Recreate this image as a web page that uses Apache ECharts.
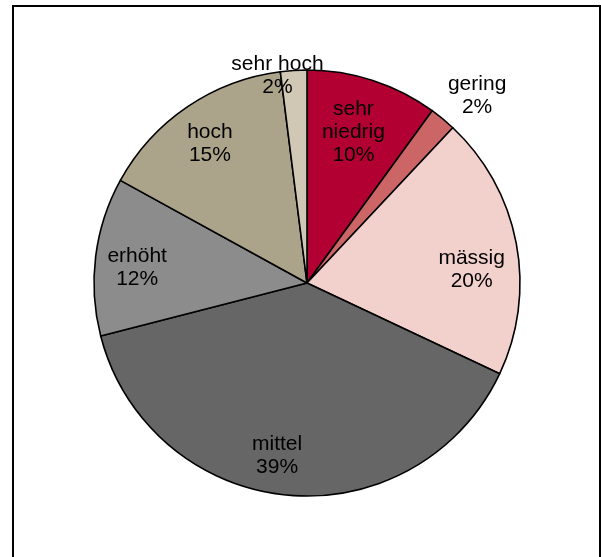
<!DOCTYPE html>
<html>
<head>
<meta charset="utf-8">
<script src="https://cdn.jsdelivr.net/npm/echarts@6/dist/echarts.min.js"></script>
<style>
  html, body { margin: 0; padding: 0; background: #fff; }
  #chart { width: 601px; height: 557px; }
</style>
</head>
<body>
<div id="chart"></div>
<script>
// Risk classes and their shares (percent)
const categories = ['sehr\nniedrig', 'gering', 'mässig', 'mittel', 'erhöht', 'hoch', 'sehr hoch'];
const shares = [10, 2, 20, 39, 12, 15, 2];
const colors = ['#b20033', '#cc6666', '#f2d0cc', '#666666', '#8c8c8c', '#aca48a', '#d0c8b4'];

// Label placement: radial stretch factor relative to the default inside position, plus a small pixel nudge
const labelStretch = [1.49, 2.38, 1.54, 1.64, 1.60, 1.61, 1.97];
const labelNudge = [[-4, 4], [4, 14], [-1, 18], [-13, -6], [4, 7], [2, 7], [-16, 8]];

const CX = 307, CY = 283, R = 213;

const chart = echarts.init(document.getElementById('chart'), null, { renderer: 'canvas' });

chart.setOption({
  animation: false,
  backgroundColor: '#ffffff',
  graphic: [{
    type: 'rect',
    shape: { x: 13, y: 6, width: 587, height: 620 },
    style: { fill: 'none', stroke: '#000', lineWidth: 2 },
    silent: true
  }],
  series: [{
    type: 'pie',
    center: [CX, CY],
    radius: [0, R],
    startAngle: 90,
    clockwise: true,
    avoidLabelOverlap: false,
    data: categories.map((name, i) => ({ name: name, value: shares[i], itemStyle: { color: colors[i] } })),
    itemStyle: { borderColor: '#000', borderWidth: 1.6 },
    label: {
      show: true,
      position: 'inside',
      formatter: p => p.name + '\n' + p.value + '%',
      fontFamily: 'Liberation Sans, Arial, sans-serif',
      fontSize: 21,
      lineHeight: 23,
      color: '#000'
    },
    labelLine: { show: false },
    emphasis: { disabled: true },
    labelLayout: function (params) {
      const r = params.labelRect;
      const lx = r.x + r.width / 2;
      const ly = r.y + r.height / 2;
      const k = labelStretch[params.dataIndex];
      const n = labelNudge[params.dataIndex];
      return {
        x: CX + (lx - CX) * k + n[0],
        y: CY + (ly - CY) * k + n[1]
      };
    }
  }]
});
</script>
</body>
</html>
